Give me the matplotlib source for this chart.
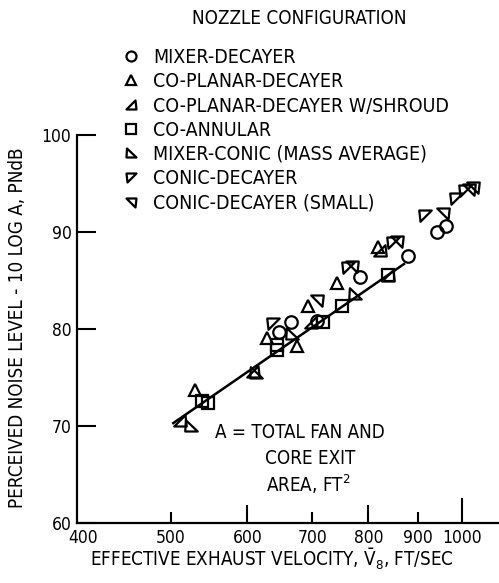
import matplotlib
matplotlib.use('Agg')
import matplotlib.pyplot as plt
from matplotlib.path import Path
from matplotlib.ticker import NullLocator
from matplotlib.transforms import ScaledTranslation

plt.rcParams['font.family'] = ['DejaVu Sans']
plt.rcParams['font.stretch'] = 'condensed'
plt.rcParams['mathtext.fontset'] = 'custom'
plt.rcParams['mathtext.rm'] = 'DejaVu Sans:stretch=condensed'
plt.rcParams['mathtext.it'] = 'DejaVu Sans:stretch=condensed'

# effective exhaust velocity (ft/sec) and perceived noise level (PNdB) per nozzle
mixer_decayer_v = [647, 666, 708, 785, 880, 943, 963]
mixer_decayer_pn = [79.7, 80.7, 80.8, 85.4, 87.5, 90.0, 90.6]

coplanar_v = [530, 629, 676, 693, 743, 819]
coplanar_pn = [73.7, 79.1, 78.2, 82.4, 84.7, 88.5]

shroud_v = [511, 608, 698, 823, 839]
shroud_pn = [70.5, 75.6, 80.6, 88.0, 85.5]

coannular_v = [539, 546, 644, 644, 719, 752, 839]
coannular_pn = [72.6, 72.4, 78.3, 77.8, 80.7, 82.4, 85.6]

mixer_conic_v = [525, 613, 668, 775]
mixer_conic_pn = [70.0, 75.5, 79.5, 83.6]

conic_dec_v = [638, 762, 849, 916, 986, 1007]
conic_dec_pn = [80.6, 86.4, 89.0, 91.8, 93.5, 94.3]

conic_small_v = [708, 770, 857, 956, 1017, 1027]
conic_small_pn = [83.0, 86.5, 89.1, 92.0, 94.4, 94.6]

# correlation line
fit_v = [503, 871]
fit_pn = [70.3, 86.7]

xticks = [400, 500, 600, 700, 800, 900, 1000]
yticks = [60, 70, 80, 90, 100]


def tri(verts):
    return Path(verts + [verts[0]], closed=True)


m_shroud = tri([(-1, -0.8), (1, -0.8), (0.8, 1)])
m_mixcon = tri([(-0.9, 1), (-1, -0.8), (1, -0.8)])
m_condec = tri([(-1, 0.8), (1, 0.8), (-0.8, -1)])
m_small = tri([(-1, 0.8), (1, 0.8), (0.8, -1)])

series = [
    (mixer_decayer_v, mixer_decayer_pn, 'o', 'MIXER-DECAYER'),
    (coplanar_v, coplanar_pn, '^', 'CO-PLANAR-DECAYER'),
    (shroud_v, shroud_pn, m_shroud, 'CO-PLANAR-DECAYER W/SHROUD'),
    (coannular_v, coannular_pn, 's', 'CO-ANNULAR'),
    (mixer_conic_v, mixer_conic_pn, m_mixcon, 'MIXER-CONIC (MASS AVERAGE)'),
    (conic_dec_v, conic_dec_pn, m_condec, 'CONIC-DECAYER'),
    (conic_small_v, conic_small_pn, m_small, 'CONIC-DECAYER (SMALL)'),
]

W, H = 499, 583
fig = plt.figure(figsize=(W / 100, H / 100), dpi=100)
ax = fig.add_axes([77 / W, 1 - 523 / H, 1 - 77 / W, (523 - 135) / H])

ax.plot(fit_v, fit_pn, color='black', lw=1.8, zorder=2)

handles = []
for v, pn, mk, lab in series:
    h, = ax.plot(v, pn, linestyle='none', marker=mk, markersize=9,
                 markerfacecolor='none', markeredgecolor='black',
                 markeredgewidth=1.6, label=lab, zorder=3)
    handles.append(h)

ax.set_xscale('log')
ax.set_xlim(400, 1092)
ax.set_ylim(60, 100)
ax.set_xticks(xticks)
ax.set_xticklabels([str(t) for t in xticks])
ax.xaxis.set_minor_locator(NullLocator())
ax.set_yticks(yticks)

for s in ['top', 'right']:
    ax.spines[s].set_visible(False)
for s in ['left', 'bottom']:
    ax.spines[s].set_linewidth(1.6)

ax.tick_params(axis='x', direction='in', length=11, width=1.5,
               labelsize=12.5, pad=4)
ax.tick_params(axis='y', direction='in', length=14, width=1.5,
               labelsize=12.5, pad=4)
# hand-drawn ticks: longer at 600, 800 and 1000
for tk, ln in zip(ax.xaxis.get_major_ticks(), [0, 8, 13, 8, 13, 8, 18]):
    tk.tick1line.set_markersize(ln)

# nudge the corner "400" clear of the "60"
lbl400 = ax.get_xticklabels()[0]
lbl400.set_transform(lbl400.get_transform()
                     + ScaledTranslation(0.06, 0, fig.dpi_scale_trans))

fig.text(299 / W, 1 - 18 / H, 'NOZZLE CONFIGURATION', ha='center',
         va='center', fontsize=13.5)
fig.legend(handles=handles, loc='upper left',
           bbox_to_anchor=(121 / W, 1 - 48 / H), frameon=False,
           fontsize=14, handlelength=1.0, handletextpad=0.65,
           labelspacing=0.27, borderpad=0, borderaxespad=0,
           markerscale=0.8)

fig.text(18 / W, 1 - 328 / H, 'PERCEIVED NOISE LEVEL - 10 LOG A, PNdB',
         rotation=90, ha='center', va='center', fontsize=13.5)
fig.text(272 / W, 1 - 559 / H,
         r'EFFECTIVE EXHAUST VELOCITY, $\bar{\mathrm{V}}_8$, FT/SEC',
         ha='center', va='center', fontsize=13.5)

fig.text(300 / W, 1 - 432 / H, 'A = TOTAL FAN AND', ha='center',
         va='center', fontsize=13.5)
fig.text(310 / W, 1 - 459 / H, 'CORE EXIT', ha='center', va='center',
         fontsize=13.5)
fig.text(308 / W, 1 - 484 / H, r'AREA, FT$^2$', ha='center', va='center',
         fontsize=13.5)

fig.savefig('out.png', dpi=100)
